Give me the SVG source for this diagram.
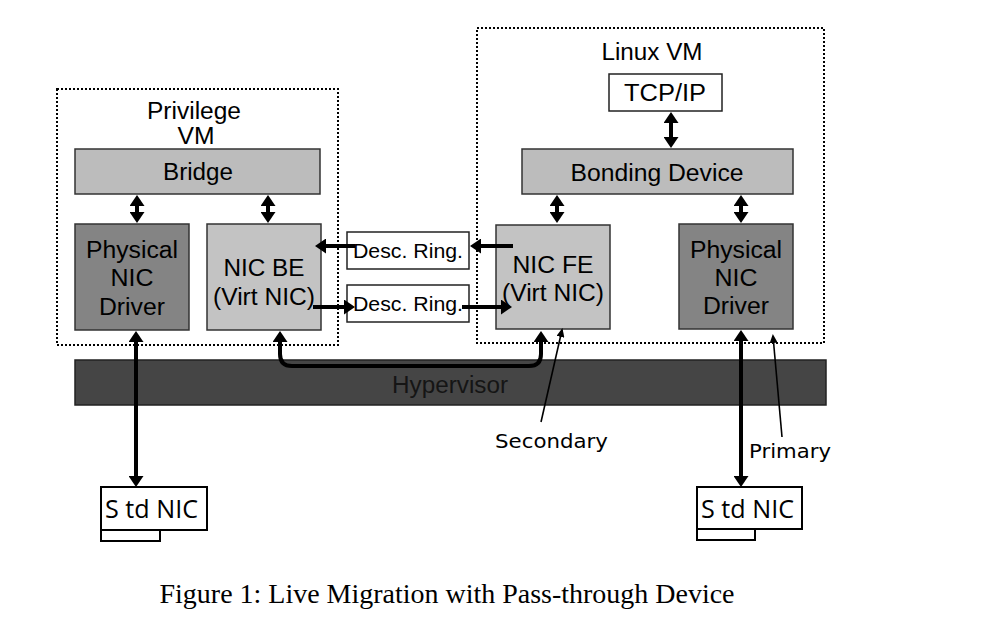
<svg xmlns="http://www.w3.org/2000/svg" width="1006" height="636" viewBox="0 0 1006 636">
<style>
.vm{fill:none;stroke:#000;stroke-width:2;stroke-dasharray:2 2}
.lt{fill:#c3c3c3;stroke:#333;stroke-width:1.5}
.br{fill:#bcbcbc;stroke:#333;stroke-width:1.5}
.dk{fill:#848484;stroke:#333;stroke-width:1.5}
.wh{fill:#fff;stroke:#222;stroke-width:1.5}
.nic{fill:#fff;stroke:#000;stroke-width:2}
.hv{fill:#454545;stroke:#222;stroke-width:1.5}
.t{font-family:"Liberation Sans",Arial,sans-serif;font-size:23px;fill:#000;text-anchor:middle}
.ts{font-family:"Liberation Sans",Arial,sans-serif;font-size:20px;fill:#000;text-anchor:middle}
.lbl{font-family:"DejaVu Sans",Verdana,sans-serif;font-size:20px;fill:#000}
.std{font-family:"Open Sans","Noto Sans",sans-serif;font-size:26px;fill:#000}
.cap{font-family:"Liberation Serif","Times New Roman",serif;font-size:27px;fill:#000;text-anchor:middle}
.a{fill:none;stroke:#000;stroke-width:4}
.p{fill:none;stroke:#000;stroke-width:1.6}
</style>
<defs>
<marker id="ah" markerUnits="userSpaceOnUse" markerWidth="11" markerHeight="15" viewBox="0 0 11 15" refX="4" refY="7.5" orient="auto-start-reverse"><path d="M0,0 L11,7.5 L0,15 z" fill="#000"/></marker>
<marker id="sm" markerUnits="userSpaceOnUse" markerWidth="9" markerHeight="8" viewBox="0 0 9 8" refX="7" refY="4" orient="auto"><path d="M0,0 L9,4 L0,8 z" fill="#000"/></marker>
</defs>
<rect width="1006" height="636" fill="#fff"/>

<g id="privilege-vm">
<rect class="vm" x="57" y="89" width="281" height="256"/>
<text class="t" x="194" y="119" textLength="94" lengthAdjust="spacingAndGlyphs">Privilege</text>
<text class="t" x="196" y="144" textLength="37" lengthAdjust="spacingAndGlyphs">VM</text>
</g>
<g id="linux-vm">
<rect class="vm" x="477" y="28" width="347" height="315"/>
<text class="t" x="652" y="60" textLength="101" lengthAdjust="spacingAndGlyphs">Linux VM</text>
</g>
<g id="hypervisor">
<rect class="hv" x="75" y="360" width="751" height="45"/>
<text class="t" x="450" y="393" style="fill:#151515" textLength="116" lengthAdjust="spacingAndGlyphs">Hypervisor</text>
</g>
<g id="bridge">
<rect class="br" x="75" y="149" width="245" height="45"/>
<text class="t" x="198" y="180" textLength="70" lengthAdjust="spacingAndGlyphs">Bridge</text>
</g>
<g id="phys-nic-left">
<rect class="dk" x="75" y="224" width="114" height="106"/>
<text class="t" x="132" y="258" textLength="92" lengthAdjust="spacingAndGlyphs">Physical</text>
<text class="t" x="132" y="286" textLength="43" lengthAdjust="spacingAndGlyphs">NIC</text>
<text class="t" x="132" y="315" textLength="66" lengthAdjust="spacingAndGlyphs">Driver</text>
</g>
<g id="nic-be">
<rect class="lt" x="207" y="224" width="114" height="106"/>
<text class="t" x="264" y="276" textLength="81" lengthAdjust="spacingAndGlyphs">NIC BE</text>
<text class="t" x="264" y="305" textLength="102" lengthAdjust="spacingAndGlyphs">(Virt NIC)</text>
</g>
<g id="desc-ring-1">
<rect class="wh" x="347" y="232" width="122" height="37"/>
<text class="ts" x="408" y="258" textLength="110" lengthAdjust="spacingAndGlyphs">Desc. Ring.</text>
</g>
<g id="desc-ring-2">
<rect class="wh" x="347" y="285" width="122" height="37"/>
<text class="ts" x="408" y="311" textLength="110" lengthAdjust="spacingAndGlyphs">Desc. Ring.</text>
</g>
<g id="tcpip">
<rect class="wh" x="609" y="74" width="113" height="37"/>
<text class="t" x="665" y="101" textLength="82" lengthAdjust="spacingAndGlyphs">TCP/IP</text>
</g>
<g id="bonding">
<rect class="br" x="522" y="149" width="271" height="45"/>
<text class="t" x="657" y="181" textLength="173" lengthAdjust="spacingAndGlyphs">Bonding Device</text>
</g>
<g id="nic-fe">
<rect class="lt" x="496" y="225" width="114" height="104"/>
<text class="t" x="553" y="273" textLength="81" lengthAdjust="spacingAndGlyphs">NIC FE</text>
<text class="t" x="553" y="301" textLength="102" lengthAdjust="spacingAndGlyphs">(Virt NIC)</text>
</g>
<g id="phys-nic-right">
<rect class="dk" x="679" y="224" width="114" height="105"/>
<text class="t" x="736" y="258" textLength="92" lengthAdjust="spacingAndGlyphs">Physical</text>
<text class="t" x="736" y="286" textLength="43" lengthAdjust="spacingAndGlyphs">NIC</text>
<text class="t" x="736" y="314" textLength="66" lengthAdjust="spacingAndGlyphs">Driver</text>
</g>
<g id="std-nic-left">
<rect class="nic" x="101" y="487" width="106" height="43"/>
<rect class="nic" x="101" y="530" width="59" height="11"/>
<text class="std" x="105" y="518" textLength="93" lengthAdjust="spacingAndGlyphs">S td NIC</text>
</g>
<g id="std-nic-right">
<rect class="nic" x="697" y="487" width="105" height="42"/>
<rect class="nic" x="697" y="529" width="58" height="11"/>
<text class="std" x="701" y="518" textLength="93" lengthAdjust="spacingAndGlyphs">S td NIC</text>
</g>
<g id="labels">
<text class="lbl" x="495" y="448" textLength="113" lengthAdjust="spacingAndGlyphs">Secondary</text>
<text class="lbl" x="749" y="458" textLength="82" lengthAdjust="spacingAndGlyphs">Primary</text>
</g>

<g id="connectors">
<line class="a" x1="137" y1="202" x2="137" y2="216" marker-start="url(#ah)" marker-end="url(#ah)"/>
<line class="a" x1="268" y1="202" x2="268" y2="216" marker-start="url(#ah)" marker-end="url(#ah)"/>
<line class="a" x1="671" y1="119" x2="671" y2="141" marker-start="url(#ah)" marker-end="url(#ah)"/>
<line class="a" x1="557" y1="202" x2="557" y2="216" marker-start="url(#ah)" marker-end="url(#ah)"/>
<line class="a" x1="741" y1="202" x2="741" y2="216" marker-start="url(#ah)" marker-end="url(#ah)"/>
<line class="a" x1="136" y1="338" x2="136" y2="480" marker-start="url(#ah)" marker-end="url(#ah)"/>
<line class="a" x1="741" y1="337" x2="741" y2="480" marker-start="url(#ah)" marker-end="url(#ah)"/>
<line class="a" x1="513" y1="246" x2="477" y2="246" marker-end="url(#ah)"/>
<line class="a" x1="355" y1="246" x2="322" y2="246" marker-end="url(#ah)"/>
<line class="a" x1="313" y1="307" x2="348" y2="307" marker-end="url(#ah)"/>
<line class="a" x1="462" y1="307" x2="505" y2="307" marker-end="url(#ah)"/>
<path class="a" d="M280,338 L280,354 Q280,366 292,366 L529,366 Q541,366 541,354 L541,338" marker-start="url(#ah)" marker-end="url(#ah)"/>
<line class="p" x1="541" y1="422" x2="562" y2="330" marker-end="url(#sm)"/>
<line class="p" x1="782" y1="437" x2="773" y2="336" marker-end="url(#sm)"/>
</g>

<text class="cap" x="447" y="603" textLength="575" lengthAdjust="spacingAndGlyphs">Figure 1: Live Migration with Pass-through Device</text>
</svg>
